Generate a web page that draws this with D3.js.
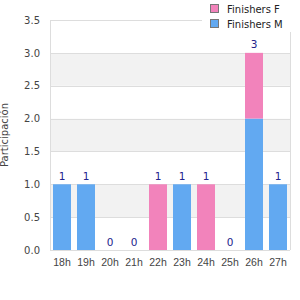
<!DOCTYPE html>
<html>
<head>
<meta charset="utf-8">
<script src="https://cdn.jsdelivr.net/npm/d3@7"></script>
<style>
  body { margin: 0; background: #fff; }
  svg { display: block; }
</style>
</head>
<body>
<svg id="chart" width="300" height="300"></svg>
<script>
    "use strict";
    // data
    var hours = ["18h", "19h", "20h", "21h", "22h", "23h", "24h", "25h", "26h", "27h"];
    var finishersM = [1, 1, 0, 0, 0, 1, 0, 0, 2, 1];
    var finishersF = [0, 0, 0, 0, 1, 0, 1, 0, 1, 0];
    var yTicks = [0, 0.5, 1, 1.5, 2, 2.5, 3, 3.5];
    var seriesNames = ["Finishers F", "Finishers M"];

    var colors = {"Finishers M": "#62a9f1", "Finishers F": "#f283bb"};
    var margin = {top: 20, left: 50, right: 10, bottom: 50};
    var width = 300, height = 300;

    var svg = d3.select("#chart");

    var x = d3.scaleBand()
        .domain(hours)
        .range([margin.left, width - margin.right])
        .paddingInner(0.25)
        .paddingOuter(0.125);

    var y = d3.scaleLinear()
        .domain([0, 3.5])
        .range([height - margin.bottom, margin.top]);

    // alternating background bands
    var bands = [];
    for (var i = 0; i < yTicks.length - 1; i++) {
        bands.push({lo: yTicks[i], hi: yTicks[i + 1], shade: i % 2 === 1});
    }
    svg.append("g").selectAll("rect")
        .data(bands)
        .enter().append("rect")
        .attr("x", margin.left)
        .attr("width", width - margin.right - margin.left)
        .attr("y", function(d) { return y(d.hi); })
        .attr("height", function(d) { return y(d.lo) - y(d.hi); })
        .attr("fill", function(d) { return d.shade ? "#f2f2f2" : "#ffffff"; });

    // y axis with grid lines
    var yAxis = d3.axisLeft(y)
        .tickValues(yTicks)
        .tickFormat(d3.format(".1f"))
        .tickSize(-(width - margin.right - margin.left))
        .tickPadding(10);
    var gy = svg.append("g")
        .attr("transform", "translate(" + margin.left + ",0)")
        .call(yAxis);
    gy.select(".domain").remove();
    gy.selectAll(".tick line").attr("stroke", "#dddddd").attr("shape-rendering", "crispEdges");
    gy.selectAll(".tick text")
        .attr("fill", "#444")
        .style("font-family", "DejaVu Sans")
        .style("font-size", "10px");

    // frame sides
    svg.append("line")
        .attr("x1", margin.left).attr("x2", margin.left)
        .attr("y1", y(3.5)).attr("y2", y(0))
        .attr("stroke", "#dddddd").attr("shape-rendering", "crispEdges");
    svg.append("line")
        .attr("x1", width - margin.right).attr("x2", width - margin.right)
        .attr("y1", y(3.5)).attr("y2", y(0))
        .attr("stroke", "#dddddd").attr("shape-rendering", "crispEdges");

    // stacked bars
    var rows = hours.map(function(h, i) {
        return {hour: h, "Finishers M": finishersM[i], "Finishers F": finishersF[i]};
    });
    var stack = d3.stack().keys(["Finishers M", "Finishers F"]);
    var layers = stack(rows);

    svg.append("g").selectAll("g")
        .data(layers)
        .enter().append("g")
        .attr("fill", function(d) { return colors[d.key]; })
        .selectAll("rect")
        .data(function(d) { return d; })
        .enter().append("rect")
        .attr("x", function(d) { return x(d.data.hour); })
        .attr("width", x.bandwidth())
        .attr("y", function(d) { return y(d[1]); })
        .attr("height", function(d) { return y(d[0]) - y(d[1]); });

    // totals above the bars
    svg.append("g").selectAll("text")
        .data(rows)
        .enter().append("text")
        .attr("x", function(d) { return x(d.hour) + x.bandwidth() / 2; })
        .attr("y", function(d) { return y(d["Finishers M"] + d["Finishers F"]) - 4.5; })
        .attr("text-anchor", "middle")
        .attr("fill", "#23238c")
        .style("font-family", "DejaVu Sans")
        .style("font-size", "10.5px")
        .text(function(d) { return d["Finishers M"] + d["Finishers F"]; });

    // x axis
    var xAxis = d3.axisBottom(x).tickSize(0).tickPadding(9);
    var gx = svg.append("g")
        .attr("transform", "translate(0," + y(0) + ")")
        .call(xAxis);
    gx.select(".domain").attr("stroke", "#dddddd").attr("d", "M" + margin.left + ",0.5H" + (width - margin.right));
    gx.selectAll(".tick text")
        .attr("fill", "#444")
        .style("font-family", "Liberation Sans")
        .style("font-size", "10.5px");

    // y title
    svg.append("text")
        .attr("transform", "translate(8," + ((y(0) + y(3.5)) / 2) + ") rotate(-90)")
        .attr("text-anchor", "middle")
        .attr("fill", "#444")
        .style("font-family", "DejaVu Sans")
        .style("font-size", "10px")
        .text("Participación");

    // legend
    var legend = svg.append("g");
    legend.append("rect")
        .attr("x", 202).attr("y", 0)
        .attr("width", 98).attr("height", 32)
        .attr("fill", "#ffffff");
    var items = legend.selectAll("g")
        .data(seriesNames)
        .enter().append("g")
        .attr("transform", function(d, i) { return "translate(210," + (4 + i * 15) + ")"; });
    items.append("rect")
        .attr("x", 0.5).attr("y", 0.5)
        .attr("width", 8).attr("height", 8)
        .attr("fill", function(d) { return colors[d]; })
        .attr("stroke", "#777");
    items.append("text")
        .attr("x", 17).attr("y", 8.5)
        .attr("fill", "#222")
        .style("font-family", "DejaVu Sans")
        .style("font-size", "10px")
        .text(function(d) { return d; });
</script>
</body>
</html>
